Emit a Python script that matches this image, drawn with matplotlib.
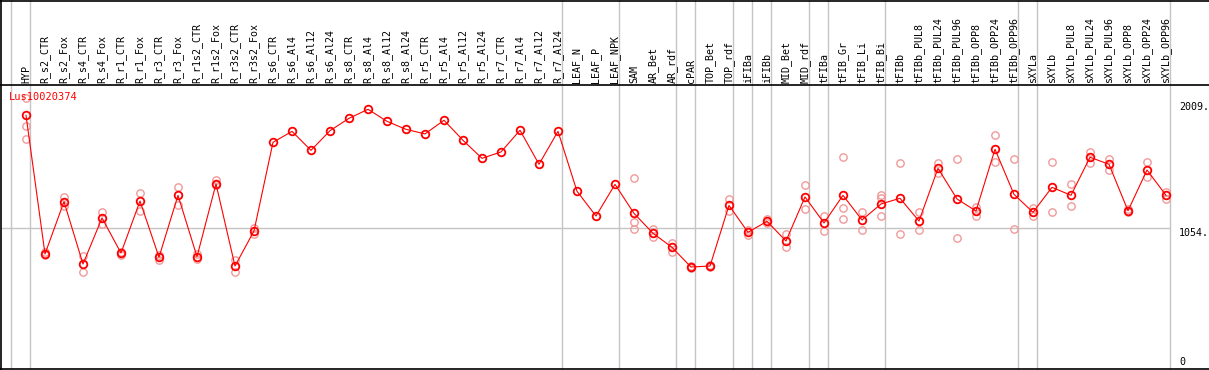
import matplotlib
matplotlib.use("Agg")
import matplotlib.pyplot as plt
from matplotlib.lines import Line2D
from matplotlib.transforms import blended_transform_factory

# ---------------- data ----------------
gene_name = "Lus10020374"

columns = [
    "HYP", "R_s2_CTR", "R_s2_Fox", "R_s4_CTR", "R_s4_Fox", "R_r1_CTR", "R_r1_Fox",
    "R_r3_CTR", "R_r3_Fox", "R_r1s2_CTR", "R_r1s2_Fox", "R_r3s2_CTR", "R_r3s2_Fox",
    "R_s6_CTR", "R_s6_Al4", "R_s6_Al12", "R_s6_Al24", "R_s8_CTR", "R_s8_Al4",
    "R_s8_Al12", "R_s8_Al24", "R_r5_CTR", "R_r5_Al4", "R_r5_Al12", "R_r5_Al24",
    "R_r7_CTR", "R_r7_Al4", "R_r7_Al12", "R_r7_Al24", "LEAF_N", "LEAF_P", "LEAF_NPK",
    "SAM", "AR_Bet", "AR_rdf", "cPAR", "TOP_Bet", "TOP_rdf", "iFIBa", "iFIBb",
    "MID_Bet", "MID_rdf", "tFIBa", "tFIB_Gr", "tFIB_Li", "tFIB_Bi", "tFIBb",
    "tFIBb_PUL8", "tFIBb_PUL24", "tFIBb_PUL96", "tFIBb_OPP8", "tFIBb_OPP24",
    "tFIBb_OPP96", "sXYLa", "sXYLb", "sXYLb_PUL8", "sXYLb_PUL24", "sXYLb_PUL96",
    "sXYLb_OPP8", "sXYLb_OPP24", "sXYLb_OPP96",
]

mean_values = [
    1884, 860, 1246, 786, 1126, 867, 1251, 836, 1293, 840, 1377, 771, 1030,
    1684, 1765, 1625, 1770, 1861, 1928, 1839, 1780, 1746, 1847, 1699, 1566,
    1613, 1773, 1522, 1765, 1323, 1140, 1374,
    1160, 1013, 909, 764, 771, 1219, 1020, 1101, 956, 1281, 1089, 1293, 1111,
    1229, 1271, 1103, 1492, 1266, 1177, 1633, 1300, 1168, 1352, 1293, 1574,
    1522, 1179, 1480, 1293,
]

replicates = [
    [2009, 1805, 1706], [875, 852], [1283, 1214], [847, 729], [1170, 1081],
    [872, 852], [1310, 1179], [855, 816], [1352, 1222], [860, 823],
    [1406, 1369], [818, 725], [1050, 1005],
    [], [], [], [], [], [], [], [], [], [], [], [], [], [], [], [], [], [], [],
    [1419, 1098, 1042], [1042, 988], [943, 872], [771, 757], [779, 764],
    [1266, 1179], [1000, 1037], [1118, 1089], [1008, 909], [1367, 1190],
    [1140, 1030], [1574, 1199, 1116], [1170, 1037], [1293, 1273, 1140],
    [1532, 1008], [1170, 1037], [1534, 1456], [1559, 976], [1209, 1140],
    [1738, 1537], [1559, 1042], [1197, 1140], [1539, 1168], [1374, 1214],
    [1611, 1534], [1559, 1480], [1194, 1168], [1539, 1426], [1320, 1268],
]

group_starts = [0, 1, 29, 32, 35, 36, 38, 39, 40, 42, 43, 46, 53, 54]
ref_value = 1054
ytick_values = [2009, 1054, 0]
ytick_labels = ["2009.", "1054.", "0"]

# ---------------- style ----------------
W, H = 1209, 370
DPI = 100
RED = "#ff0000"
PINK = "#f09a9a"
GRAY = "#c4c4c4"
FONT = "DejaVu Sans Mono"
FS = 7.2

fig = plt.figure(figsize=(W / DPI, H / DPI), dpi=DPI)
fig.patch.set_facecolor("white")

def fx(px):
    return px / W

def fy(py):  # py measured from the top
    return 1 - py / H

plot_left, plot_right = 2, 1170
plot_top, plot_bottom = 86, 369
head_top, head_bottom = 0, 85

ax = fig.add_axes([fx(plot_left), fy(plot_bottom), fx(plot_right - plot_left),
                   (plot_bottom - plot_top) / H])
hax = fig.add_axes([fx(plot_left), fy(head_bottom), fx(plot_right - plot_left),
                    (head_bottom - head_top) / H], sharex=ax)
for a in (ax, hax):
    a.axis("off")

# x mapping: column i at 26 + 19 i pixels
x0, step = 26, 19
ax.set_xlim((plot_left - x0) / step, (plot_right - x0) / step)
# y mapping: 1054 at 227.7 px, 7.38 units / px
ax.set_ylim(1054 - (plot_bottom - 227.7) * 7.38, 1054 + (227.7 - plot_top) * 7.38)
hax.set_ylim(0, 1)

xs = list(range(len(columns)))

# group separators
sep_offset = 15 / 19
for g in group_starts + [len(columns)]:
    for a in (ax, hax):
        a.axvline(g - sep_offset, color=GRAY, lw=1.0, zorder=1, clip_on=False)

ax.axhline(ref_value, color=GRAY, lw=1.0, zorder=1)

# replicate points
for i, reps in enumerate(replicates):
    if reps:
        ax.plot([i] * len(reps), reps, linestyle="none", marker="o", ms=5.3,
                mfc="none", mec=PINK, mew=1.0, zorder=2, clip_on=False)

# mean line + markers
ax.plot(xs, mean_values, color=RED, lw=0.8, zorder=3, clip_on=False)
ax.plot(xs, mean_values, linestyle="none", marker="o", ms=5.5, mfc="none",
        mec=RED, mew=1.3, zorder=4, clip_on=False)

# column labels
htrans = blended_transform_factory(hax.transData, hax.transAxes)
for i, lab in enumerate(columns):
    hax.text(i, 2 / 85, lab, rotation=90, ha="center", va="bottom",
             fontsize=FS, family=FONT, color="black", transform=htrans)

# gene name
fig.text(fx(9), fy(97), gene_name, color=RED, fontsize=FS + 0.3, family=FONT,
         ha="left", va="center")

# right value labels
offsets = [-9, -5, 9]
for v, lab, off in zip(ytick_values, ytick_labels, offsets):
    ax.annotate(lab, xy=(1179, v), xycoords=("figure pixels", "data"),
                xytext=(0, off), textcoords="offset pixels", ha="left",
                va="center", fontsize=FS, family=FONT, color="black",
                annotation_clip=False)

# frame lines
def hline(py, x_from=0, x_to=W):
    fig.add_artist(Line2D([fx(x_from), fx(x_to)], [fy(py), fy(py)],
                          color="black", lw=1.2, transform=fig.transFigure))

def vline(px):
    fig.add_artist(Line2D([fx(px), fx(px)], [0, 1], color="black", lw=1.2,
                          transform=fig.transFigure))

hline(0.6)
hline(85)
hline(368.6)
vline(0.8)

fig.savefig("out.png", dpi=DPI, facecolor="white")
